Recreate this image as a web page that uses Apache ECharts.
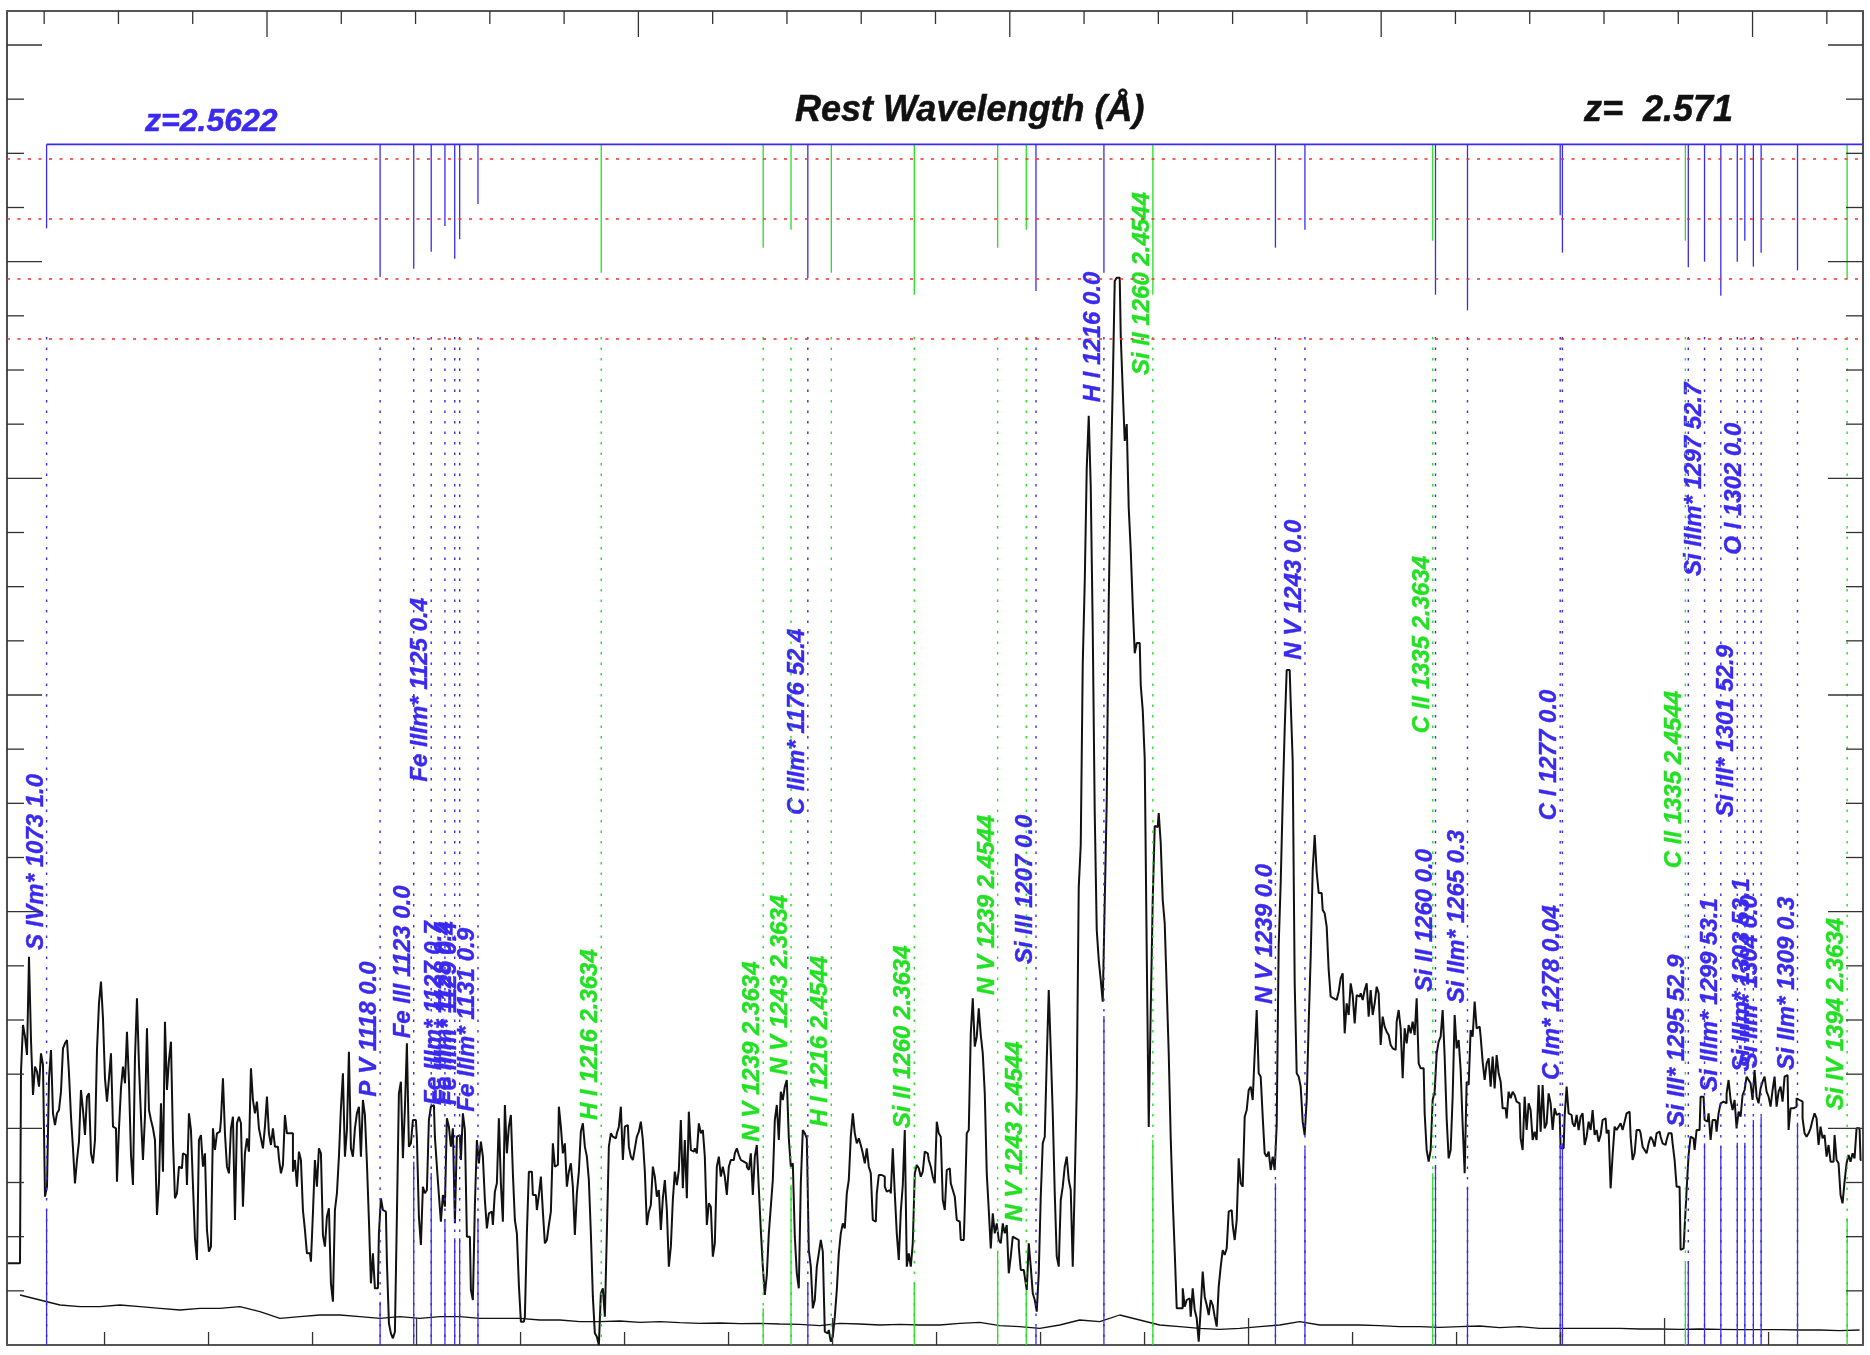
<!DOCTYPE html>
<html><head><meta charset="utf-8">
<script src="https://cdn.jsdelivr.net/npm/echarts@6/dist/echarts.min.js"></script>
<style>html,body{margin:0;padding:0;background:#fff}#c{width:1870px;height:1355px}</style>
</head><body><div id="c"></div>
<script>
// ---------- data ----------
const wave0 = 3803.58, dWave = 0.9613;      // observed-wavelength grid of the spectrum (Å)
const flux = [
0.245,0.245,0.245,0.245,0.245,0.245,0.245,0.82,0.96,0.925,
0.87,1.165,0.915,0.75,0.835,0.82,0.775,0.875,0.84,0.445,
0.475,0.8,0.885,0.695,0.66,0.695,0.705,0.76,0.89,0.905,
0.915,0.815,0.685,0.59,0.485,0.555,0.61,0.765,0.705,0.63,
0.745,0.755,0.575,0.545,0.615,0.885,1.025,1.09,0.98,0.8,
0.73,0.8,0.875,0.655,0.65,0.49,0.65,0.77,0.835,0.785,
0.94,0.79,0.57,0.48,0.86,1.04,0.84,0.685,0.555,0.685,
0.95,0.705,0.675,0.65,0.615,0.39,0.485,0.725,0.52,0.97,
0.765,0.855,0.91,0.615,0.44,0.455,0.535,0.53,0.575,0.57,
0.48,0.695,0.645,0.48,0.32,0.255,0.615,0.63,0.535,0.575,
0.345,0.28,0.295,0.65,0.585,0.635,0.64,0.675,0.8,0.635,
0.535,0.515,0.65,0.685,0.375,0.665,0.685,0.665,0.415,0.575,
0.62,0.58,0.83,0.735,0.695,0.73,0.65,0.62,0.59,0.655,
0.745,0.635,0.6,0.65,0.595,0.595,0.56,0.515,0.54,0.69,
0.635,0.635,0.635,0.52,0.555,0.475,0.58,0.555,0.405,0.345,
0.275,0.275,0.25,0.395,0.555,0.475,0.59,0.575,0.33,0.295,
0.385,0.41,0.185,0.13,0.405,0.455,0.565,0.71,0.815,0.565,
0.645,0.88,0.59,0.565,0.65,0.695,0.715,0.565,0.735,0.69,
0.545,0.375,0.185,0.275,0.17,0.17,0.335,0.44,0.405,0.4,
0.25,0.065,0.035,0.02,0.04,0.39,0.755,0.79,0.56,0.71,
0.905,0.595,0.605,0.675,0.675,0.62,0.385,0.3,0.475,0.455,
0.465,0.675,0.715,0.72,0.625,0.535,0.45,0.37,0.45,0.415,
0.68,0.655,0.595,0.65,0.365,0.625,0.63,0.555,0.695,0.645,
0.325,0.325,0.165,0.135,0.42,0.615,0.545,0.61,0.565,0.435,
0.35,0.395,0.4,0.36,0.46,0.485,0.68,0.485,0.37,0.72,
0.575,0.655,0.69,0.515,0.375,0.335,0.18,0.07,0.07,0.085,
0.335,0.52,0.52,0.45,0.45,0.405,0.45,0.505,0.4,0.305,
0.315,0.36,0.4,0.605,0.535,0.54,0.715,0.655,0.575,0.605,
0.475,0.52,0.545,0.475,0.33,0.455,0.52,0.64,0.665,0.595,
0.565,0.495,0.335,0.145,0.035,0.025,0,0.155,0.17,0.085,
0.335,0.595,0.635,0.625,0.62,0.635,0.655,0.715,0.555,0.655,
0.66,0.595,0.565,0.555,0.59,0.625,0.64,0.67,0.615,0.52,
0.36,0.4,0.42,0.535,0.505,0.445,0.465,0.345,0.44,0.495,
0.405,0.235,0.295,0.435,0.52,0.48,0.525,0.675,0.47,0.615,
0.44,0.7,0.585,0.58,0.59,0.575,0.665,0.635,0.645,0.565,
0.36,0.425,0.415,0.265,0.305,0.535,0.565,0.505,0.535,0.505,
0.45,0.535,0.555,0.555,0.575,0.59,0.57,0.555,0.55,0.545,
0.535,0.525,0.575,0.45,0.565,0.6,0.47,0.345,0.235,0.15,
0.21,0.335,0.415,0.495,0.675,0.72,0.615,0.76,0.735,0.775,
0.795,0.62,0.535,0.545,0.325,0.215,0.17,0.485,0.645,0.635,
0.62,0.285,0.235,0.11,0.135,0.235,0.275,0.315,0.28,0.04,
0.035,0.045,0.01,0.025,0.085,0.165,0.275,0.335,0.365,0.35,
0.455,0.495,0.625,0.695,0.635,0.605,0.62,0.6,0.575,0.545,
0.59,0.535,0.515,0.375,0.37,0.455,0.51,0.51,0.505,0.475,
0.46,0.465,0.455,0.59,0.455,0.335,0.255,0.4,0.48,0.645,
0.235,0.275,0.235,0.305,0.515,0.54,0.53,0.505,0.52,0.58,
0.575,0.555,0.535,0.505,0.485,0.67,0.635,0.625,0.435,0.405,
0.525,0.53,0.485,0.465,0.445,0.375,0.37,0.315,0.315,0.41,
0.635,0.645,0.935,1.04,0.895,0.925,1.01,0.93,0.875,0.755,
0.515,0.405,0.29,0.395,0.335,0.365,0.315,0.305,0.365,0.335,
0.36,0.215,0.265,0.325,0.32,0.315,0.295,0.225,0.225,0.205,
0.165,0.305,0.235,0.155,0.135,0.1,0.215,0.445,0.605,0.625,
0.855,1.065,0.885,0.695,0.455,0.265,0.235,0.435,0.475,0.535,
0.565,0.495,0.465,0.235,0.485,0.765,1.374,1.5,2.043,2.289,
2.631,2.788,2.574,2.145,1.596,1.245,1.155,1.095,1.03,1.329,
1.632,2.232,2.598,2.877,3.192,3.202,3.202,3.028,2.866,2.712,
2.763,2.511,2.385,2.22,2.075,2.106,2.106,1.98,1.905,1.758,
1.179,0.654,1.005,1.335,1.557,1.554,1.596,1.506,1.335,1.265,
1.07,0.875,0.62,0.435,0.28,0.11,0.11,0.11,0.17,0.115,
0.135,0.14,0.085,0.17,0.105,0.08,0.01,0.11,0.22,0.145,
0.12,0.09,0.135,0.12,0.085,0.055,0.175,0.235,0.285,0.27,
0.29,0.4,0.405,0.36,0.315,0.375,0.56,0.485,0.475,0.685,
0.705,0.765,0.775,0.735,0.875,1.005,0.815,0.805,0.685,0.575,
0.565,0.58,0.525,0.565,0.525,0.66,1.2,1.386,1.632,1.848,
2.025,2.025,1.929,1.752,1.085,0.815,0.805,0.775,0.67,0.63,
0.735,0.965,1.165,1.425,1.53,1.419,1.356,1.356,1.305,1.295,
1.255,1.125,1.045,1.04,1.035,1.035,1.06,1.1,1.115,0.935,
1.025,0.99,1.085,1.05,0.965,1.05,1.045,1.055,1.035,1.065,
1.085,0.985,1.065,0.99,1.025,1.075,1.055,0.9,0.985,0.955,
0.94,0.93,0.9,0.89,0.885,0.97,1.005,0.95,0.8,0.95,
0.905,0.96,0.935,0.97,0.93,1.04,0.845,0.83,0.83,0.695,
0.585,0.55,0.585,0.735,0.76,0.875,0.91,0.925,1.005,0.865,
0.68,0.56,0.585,0.745,0.99,0.89,0.915,0.825,0.66,0.515,
0.79,0.78,0.945,0.925,1.03,0.95,0.955,0.925,0.85,0.795,
0.845,0.86,0.775,0.865,0.77,0.87,0.815,0.79,0.71,0.71,
0.68,0.76,0.74,0.76,0.75,0.73,0.725,0.62,0.585,0.745,
0.645,0.725,0.705,0.615,0.64,0.615,0.78,0.64,0.78,0.65,
0.665,0.755,0.725,0.645,0.71,0.69,0.695,0.59,0.59,0.685,
0.775,0.695,0.69,0.665,0.655,0.69,0.645,0.685,0.695,0.6,
0.625,0.67,0.645,0.705,0.63,0.645,0.61,0.63,0.675,0.68,
0.635,0.645,0.47,0.57,0.655,0.645,0.655,0.665,0.645,0.67,
0.695,0.7,0.625,0.555,0.575,0.645,0.645,0.635,0.595,0.585,
0.575,0.605,0.625,0.615,0.595,0.635,0.64,0.625,0.605,0.6,
0.615,0.635,0.635,0.605,0.555,0.475,0.475,0.285,0.29,0.35,
0.465,0.57,0.625,0.62,0.585,0.645,0.645,0.745,0.745,0.675,
0.67,0.695,0.615,0.675,0.675,0.64,0.695,0.725,0.73,0.725,
0.755,0.795,0.735,0.705,0.735,0.65,0.7,0.685,0.75,0.765,
0.805,0.795,0.785,0.735,0.825,0.745,0.725,0.77,0.79,0.805,
0.76,0.745,0.715,0.765,0.805,0.715,0.76,0.775,0.73,0.805,
0.81,0.645,0.71,0.71,0.715,0.74,0.735,0.73,0.68,0.635,
0.625,0.635,0.65,0.675,0.695,0.68,0.6,0.655,0.62,0.63,
0.565,0.6,0.55,0.55,0.63,0.555,0.545,0.45,0.425,0.49,
0.545,0.57,0.55,0.575,0.56,0.65,0.65,0.555
];
// error spectrum, sampled every errStep bins starting at errStart
const errStart = 6, errStep = 10;
const errFlux = [
0.15,0.135,0.12,0.115,0.115,0.12,0.115,0.11,0.105,0.11,
0.11,0.115,0.1,0.08,0.085,0.09,0.09,0.085,0.08,0.085,
0.08,0.085,0.085,0.08,0.08,0.08,0.075,0.075,0.07,0.07,
0.072,0.068,0.07,0.067,0.065,0.066,0.064,0.065,0.063,0.062,
0.058,0.065,0.063,0.06,0.062,0.06,0.06,0.065,0.068,0.058,
0.055,0.05,0.06,0.075,0.07,0.09,0.075,0.06,0.055,0.05,
0.047,0.05,0.055,0.06,0.07,0.06,0.06,0.06,0.058,0.055,
0.055,0.053,0.055,0.057,0.052,0.055,0.05,0.05,0.05,0.05,
0.05,0.048,0.048,0.047,0.048,0.047,0.046,0.046,0.046,0.045,
0.045,0.043,0.045
];
// absorption-line identifications
const zMain = 2.5622, zTop = 2.571;
const lineRest = [1072.97,1117.98,1122.52,1124.88,1126.73,1128.05,1128.72,1131.19,1175.71,1206.50,
  1215.67,1238.82,1242.80,1260.42,1264.74,1277.25,1277.55,1294.54,1296.73,1298.93,
  1301.15,1302.17,1303.32,1304.37,1309.28,
  1215.67,1238.82,1242.80,1215.67,1260.42,1238.82,1242.80,1260.42,1334.53,1334.53,1393.76];
const lineZ = [2.5622,2.5622,2.5622,2.5622,2.5622,2.5622,2.5622,2.5622,2.5622,2.5622,
  2.5622,2.5622,2.5622,2.5622,2.5622,2.5622,2.5622,2.5622,2.5622,2.5622,
  2.5622,2.5622,2.5622,2.5622,2.5622,
  2.3634,2.3634,2.3634,2.4544,2.3634,2.4544,2.4544,2.4544,2.3634,2.4544,2.3634];
const lineLabel = ['S IVm* 1073 1.0','P V 1118 0.0','Fe III 1123 0.0','Fe IIIm* 1125 0.4','Fe IIIm* 1127 0.7',
  'Fe IIIm* 1128 0.4','Fe IIIm* 1129 0.4','Fe IIIm* 1131 0.9','C IIIm* 1176 52.4','Si III 1207 0.0',
  'H I 1216 0.0','N V 1239 0.0','N V 1243 0.0','Si II 1260 0.0','Si IIm* 1265 0.3',
  'C I 1277 0.0','C Im* 1278 0.04','Si III* 1295 52.9','Si IIIm* 1297 52.7','Si IIIm* 1299 53.1',
  'Si III* 1301 52.9','O I 1302 0.0','Si IIIm* 1303 53.1','Si IIm* 1304 0.0','Si IIm* 1309 0.3',
  'H I 1216 2.3634','N V 1239 2.3634','N V 1243 2.3634','H I 1216 2.4544','Si II 1260 2.3634',
  'N V 1239 2.4544','N V 1243 2.4544','Si II 1260 2.4544','C II 1335 2.3634','C II 1335 2.4544','Si IV 1394 2.3634'];
const lineDepth = [3.350,3.204,3.229,3.280,3.357,3.259,3.317,3.423,3.200,3.162,
  3.217,3.292,3.346,3.151,3.104,3.389,3.277,3.233,3.250,3.148,
  3.250,3.313,3.235,3.277,3.224,
  3.217,3.292,3.346,3.217,3.151,3.292,3.346,3.151,3.313,3.313,3.199];
const labelFlux = [1.185,0.745,0.92,1.69,0.72,0.72,0.72,0.70,1.59,1.143,
  2.828,1.023,2.056,1.06,1.025,1.574,0.795,0.655,2.307,0.76,
  1.584,2.371,0.82,0.83,0.825,
  0.675,0.61,0.81,0.655,0.65,1.05,0.37,2.91,1.835,1.43,0.705];
const markFlux = [0.405,0.13,0.55,0.516,0.377,0.32,0.32,0.38,0.185,0.055,
  0.987,0.485,0.59,0.54,0.475,0.60,0.605,0.25,0.605,0.595,
  0.607,0.607,0.675,0.685,0.667,
  0,0.11,0.48,0,0.185,0.28,0.165,0.615,0.515,0.245,0.38];
const topLevel = 3.602, dotLevel = 3.024;
const redLevels = [3.557, 3.380, 3.202, 3.024];
// axis extents and tick values
const xMin = 3803.1, xMax = 4695.4, yMax = 4.002;
const obsMajorTicks = [4000,4200,4400,4600];
const obsMinorTicks = [3850,3900,3950,4050,4100,4150,4250,4300,4350,4450,4500,4550,4650];
const restMajorTicks = [1100,1150,1200,1250,1300];
const restMinorTicks = [1070,1080,1090,1110,1120,1130,1140,1160,1170,1180,1190,1210,1220,1230,1240,1260,1270,1280,1290,1310];
const fluxTickStep = 0.1625, fluxMajorEvery = 4;

// ---------- chart ----------
const BLUE = '#3a2af0', GREEN = '#22e022';
const LABEL_FONT = 'italic bold 24px "Liberation Sans", Arial, sans-serif';
const specData = flux.map((f, i) => [wave0 + i * dWave, f]);
const errData = errFlux.map((f, k) => [wave0 + (errStart + k * errStep) * dWave, f]);
const markerData = lineRest.map((r, i) => [r * (1 + lineZ[i]), lineDepth[i], labelFlux[i], markFlux[i]]);

function renderTicks(params, api) {
  const cs = params.coordSys;
  const L = cs.x, R = cs.x + cs.width, T = cs.y, B = cs.y + cs.height;
  const kids = [];
  const st = { stroke: '#333', lineWidth: 1.3 };
  const add = (x1, y1, x2, y2) => kids.push({ type: 'line', shape: { x1, y1, x2, y2 }, style: st });
  obsMinorTicks.forEach(v => { const p = api.coord([v, 0])[0]; add(p, B, p, B - 13); });
  obsMajorTicks.forEach(v => { const p = api.coord([v, 0])[0]; add(p, B, p, B - 27); });
  restMinorTicks.forEach(v => { const p = api.coord([v * (1 + zTop), 0])[0]; add(p, T, p, T + 13); });
  restMajorTicks.forEach(v => { const p = api.coord([v * (1 + zTop), 0])[0]; add(p, T, p, T + 26); });
  for (let k = 1; k * fluxTickStep < yMax; k++) {
    const p = api.coord([xMin, k * fluxTickStep])[1];
    const len = (k % fluxMajorEvery === 0) ? 35 : 17;
    add(L, p, L + len, p); add(R, p, R - len, p);
  }
  return { type: 'group', children: kids };
}

function renderMarker(params, api) {
  const i = params.dataIndex;
  const obs = api.value(0);
  const col = lineZ[i] === zMain ? BLUE : GREEN;
  const x = api.coord([obs, 0])[0];
  const y = v => api.coord([obs, v])[1];
  const kids = [
    { type: 'line', shape: { x1: x, y1: y(topLevel), x2: x, y2: y(api.value(1)) }, style: { stroke: col, lineWidth: 1.3 } },
    { type: 'line', shape: { x1: x, y1: y(dotLevel), x2: x, y2: y(0) }, style: { stroke: col, lineWidth: 1.4, lineDash: [2.5, 8] } }
  ];
  if (api.value(3) > 0) kids.push({ type: 'line', shape: { x1: x, y1: y(api.value(3)), x2: x, y2: y(0) }, style: { stroke: col, lineWidth: 1.3 } });
  kids.push({ type: 'text', x: x - 10.5, y: y(api.value(2)), rotation: Math.PI / 2,
    style: { text: lineLabel[i], fill: col, stroke: col, lineWidth: 0.4, font: LABEL_FONT, align: 'left', verticalAlign: 'middle' } });
  return { type: 'group', children: kids };
}

function renderTopRule(params, api) {
  const a = api.coord([api.value(0), api.value(1)]);
  const R = params.coordSys.x + params.coordSys.width;
  return { type: 'line', shape: { x1: a[0], y1: a[1], x2: R, y2: a[1] }, style: { stroke: BLUE, lineWidth: 1.7 } };
}

const axisCommon = { axisTick: { show: false }, axisLabel: { show: false }, splitLine: { show: false } };
const chart = echarts.init(document.getElementById('c'));
chart.setOption({
  animation: false,
  backgroundColor: '#fff',
  grid: { left: 7, right: 7, top: 11, bottom: 10, containLabel: false },
  xAxis: [
    Object.assign({ type: 'value', min: xMin, max: xMax, position: 'bottom', axisLine: { show: true, onZero: false, lineStyle: { color: '#555', width: 2 } } }, axisCommon),
    Object.assign({ type: 'value', min: xMin, max: xMax, position: 'top', axisLine: { show: true, onZero: false, lineStyle: { color: '#555', width: 2 } } }, axisCommon)
  ],
  yAxis: [
    Object.assign({ type: 'value', min: 0, max: yMax, position: 'left', axisLine: { show: true, onZero: false, lineStyle: { color: '#222', width: 1.6 } } }, axisCommon),
    Object.assign({ type: 'value', min: 0, max: yMax, position: 'right', axisLine: { show: true, onZero: false, lineStyle: { color: '#222', width: 1.6 } } }, axisCommon)
  ],
  graphic: [
    { type: 'text', x: 795, y: 111, style: { text: 'Rest Wavelength (Å)', font: 'italic bold 36px "Liberation Sans", Arial, sans-serif', fill: '#111', stroke: '#111', lineWidth: 0.5, verticalAlign: 'middle' } },
    { type: 'text', x: 1584, y: 111, style: { text: 'z=  2.571', font: 'italic bold 36px "Liberation Sans", Arial, sans-serif', fill: '#111', stroke: '#111', lineWidth: 0.5, verticalAlign: 'middle' } },
    { type: 'text', x: 145, y: 122, style: { text: 'z=2.5622', font: 'italic bold 32px "Liberation Sans", Arial, sans-serif', fill: BLUE, stroke: BLUE, lineWidth: 0.5, verticalAlign: 'middle' } }
  ],
  series: [
    { type: 'line', name: 'flux', data: specData, step: 'middle', symbol: 'none', z: 3,
      lineStyle: { color: '#111', width: 2 },
      markLine: { silent: true, symbol: ['none', 'none'], label: { show: false },
        lineStyle: { color: '#ff2a2a', width: 1.6, type: [3, 7.5] },
        data: redLevels.map(v => ({ yAxis: v })) } },
    { type: 'line', name: 'error', data: errData, symbol: 'none', z: 3, lineStyle: { color: '#111', width: 1.3 } },
    { type: 'custom', name: 'lines', data: markerData, encode: { x: 0, y: 1 }, renderItem: renderMarker, z: 4, silent: true, clip: false },
    { type: 'custom', name: 'rule', data: [[markerData[0][0], topLevel]], encode: { x: 0, y: 1 }, renderItem: renderTopRule, z: 4, silent: true, clip: false },
    { type: 'custom', name: 'ticks', data: [[xMin, 0]], encode: { x: 0, y: 1 }, renderItem: renderTicks, z: 5, silent: true, clip: false }
  ]
});
</script>
</body></html>
